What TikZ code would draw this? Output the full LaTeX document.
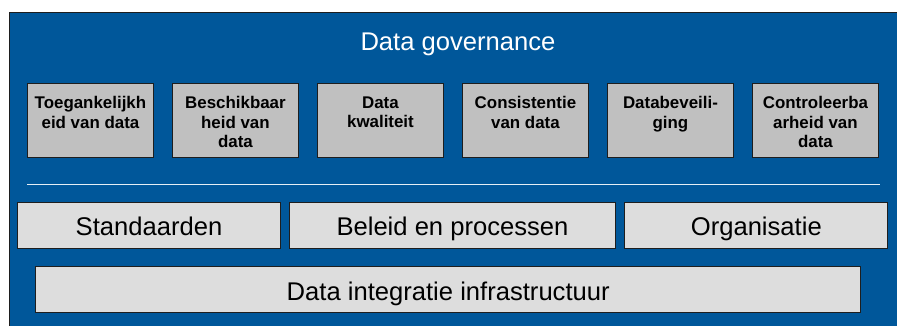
\documentclass[tikz,border=0pt]{standalone}
\usepackage{fontspec}
\setmainfont{Liberation Sans}
\definecolor{govblue}{HTML}{00579A}
\definecolor{smallgray}{HTML}{C0C0C0}
\definecolor{rowgray}{HTML}{DDDDDD}
\definecolor{edge}{HTML}{1E1E1E}
\begin{document}
\begin{tikzpicture}[x=1pt,y=-1pt,
  smallbox/.style={draw=edge,line width=1pt,fill=smallgray,minimum width=126.5pt,minimum height=73.5pt,inner sep=0pt,anchor=north west},
  smalltext/.style={anchor=north,align=center,inner sep=0pt,font=\bfseries\fontsize{16.9}{19.3}\selectfont,text=black},
  rowbox/.style={draw=edge,line width=1pt,fill=rowgray,inner sep=0pt,text height=21pt,text depth=0pt,font=\fontsize{25.6}{28}\selectfont,text=black},
]
\useasboundingbox (0,0) rectangle (897,325);
\fill[white] (0,0) rectangle (897,325);
\node[draw=edge,line width=1pt,fill=govblue,anchor=north west,minimum width=892pt,minimum height=317pt,inner sep=0pt] (bg) at (8.5,11.5) {};
\node[text=white,font=\fontsize{25.6}{28}\selectfont,inner sep=0pt,anchor=base] (title) at (458,50) {Data governance};
\foreach \i/\x/\t in {1/26.7/{Toegankelijkh\\eid van data},2/171.7/{Beschikbaar\\heid van\\data},3/316.7/{Data\\kwaliteit},4/461.7/{Consistentie\\van data},5/606.7/{Databeveili-\\ging},6/751.7/{Controleerba\\arheid van\\data}}{
  \node[smallbox] (b\i) at (\x,83.3) {};
  \node[smalltext] (t\i) at ([yshift=-13pt]b\i.north) {\t};
}
\coordinate (la) at (27,184);
\coordinate (lb) at (880,184);
\draw[white!90!govblue,line width=1pt] (la) -- (lb);
\node[rowbox,minimum width=263.4pt,minimum height=46pt] (s1) at (149,225.3) {Standaarden};
\node[rowbox,minimum width=326.4pt,minimum height=46pt] (s2) at (452.5,225.3) {Beleid en processen};
\node[rowbox,minimum width=262.7pt,minimum height=46pt] (s3) at (756.3,225.3) {Organisatie};
\node[rowbox,minimum width=825pt,minimum height=45.6pt] (infra) at (448.2,289.5) {Data integratie infrastructuur};
\end{tikzpicture}
\end{document}
